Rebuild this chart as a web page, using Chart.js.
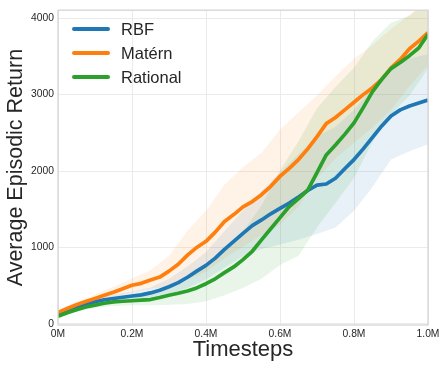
<!DOCTYPE html>
<html>
<head>
<meta charset="utf-8">
<script src="https://cdn.jsdelivr.net/npm/chart.js@4.4.1/dist/chart.umd.min.js"></script>
<style>
  html, body { margin: 0; padding: 0; background: #ffffff; }
  #wrap { width: 448px; height: 371px; position: relative; }
</style>
</head>
<body>
<div id="wrap"><canvas id="c" width="448" height="371"></canvas></div>
<script>
// ---- data (timesteps in millions) ----
const steps = [0,0.025,0.05,0.075,0.1,0.125,0.15,0.175,0.2,0.225,0.25,0.275,0.3,0.325,0.35,0.375,0.4,0.425,0.45,0.475,0.5,0.525,0.55,0.575,0.6,0.625,0.65,0.675,0.7,0.725,0.75,0.775,0.8,0.825,0.85,0.875,0.9,0.925,0.95,0.975,1.0];
const rbfMean = [140,185,225,258,290,315,332,348,365,380,405,440,485,540,610,690,765,860,975,1080,1185,1285,1360,1440,1510,1580,1660,1745,1815,1830,1905,2030,2150,2290,2440,2590,2720,2800,2850,2890,2930];
const maternMean = [150,200,250,292,333,375,415,460,505,530,575,612,690,780,900,1000,1080,1200,1340,1430,1530,1600,1690,1800,1930,2035,2150,2290,2450,2620,2700,2800,2900,3000,3090,3200,3350,3460,3600,3700,3810];
const rationalMean = [100,145,185,220,245,270,287,296,302,310,318,345,375,400,430,470,525,590,670,745,840,950,1100,1245,1390,1535,1640,1750,1980,2210,2340,2480,2630,2830,3040,3200,3340,3420,3510,3610,3790];

// shaded bands (read at every 0.05M)
const bandSteps = [0,0.05,0.1,0.15,0.2,0.25,0.3,0.35,0.4,0.45,0.5,0.55,0.6,0.65,0.7,0.75,0.8,0.85,0.9,0.95,1.0];
const rbfLow  = [120,195,250,280,300,325,390,470,580,735,885,980,1040,1100,1175,1260,1480,1790,2150,2260,2350];
const rbfHigh = [160,255,330,380,425,475,590,750,940,1215,1485,1740,1980,2220,2455,2580,2800,3090,3360,3470,3530];
const maternLow  = [125,215,283,345,415,460,490,580,680,860,1010,1160,1300,1530,1910,2160,2370,2570,2800,3110,3380];
const maternHigh = [175,285,383,485,595,700,890,1220,1480,1820,2050,2240,2540,2770,2990,3240,3470,3650,3860,4050,4220];
const rationalLow  = [80,160,210,235,245,245,250,260,295,375,470,590,770,890,1260,1580,1910,2380,2740,2990,3340];
const rationalHigh = [120,220,290,335,365,405,470,580,755,975,1210,1550,2010,2390,2820,3100,3350,3700,3940,4030,4240];

const seriesNames = ['RBF', 'Matérn', 'Rational'];
const yTicks = [0, 1000, 2000, 3000, 4000];
const xTicks = [0, 0.2, 0.4, 0.6, 0.8, 1.0];

const colors = ['#1f77b4', '#ff7f0e', '#2ca02c'];
const fills = ['rgba(31,119,180,0.10)', 'rgba(255,127,14,0.10)', 'rgba(44,160,44,0.10)'];

const pts = (xs, ys) => xs.map((x, i) => ({x: x, y: ys[i]}));
const means = [rbfMean, maternMean, rationalMean];
const lows = [rbfLow, maternLow, rationalLow];
const highs = [rbfHigh, maternHigh, rationalHigh];

const datasets = [];
for (let s = 0; s < 3; s++) {
  datasets.push({
    label: seriesNames[s] + ' upper', data: pts(bandSteps, highs[s]),
    borderWidth: 0, pointRadius: 0, fill: false, backgroundColor: fills[s],
    borderColor: 'rgba(0,0,0,0)', order: 10 + (2 - s), tension: 0
  });
  datasets.push({
    label: seriesNames[s] + ' lower', data: pts(bandSteps, lows[s]),
    borderWidth: 0, pointRadius: 0, fill: '-1', backgroundColor: fills[s],
    borderColor: 'rgba(0,0,0,0)', order: 10 + (2 - s), tension: 0
  });
}
for (let s = 0; s < 3; s++) {
  datasets.push({
    label: seriesNames[s], data: pts(steps, means[s]),
    borderColor: colors[s], borderWidth: 3.7, pointRadius: 0, fill: false,
    order: 2 - s, tension: 0, borderJoinStyle: 'round'
  });
}

const textColor = '#262626';
const fontFam = '"Liberation Sans", Arial, sans-serif';

const framePlugin = {
  id: 'frameAndLegend',
  afterDraw(chart) {
    const ctx = chart.ctx;
    const a = chart.chartArea;
    ctx.save();
    ctx.strokeStyle = '#d4d4d4';
    ctx.lineWidth = 1.3;
    ctx.strokeRect(a.left, a.top, a.right - a.left, a.bottom - a.top);
    // legend
    const ys = [29, 53, 77];
    ctx.font = '16.5px ' + fontFam;
    ctx.textBaseline = 'middle';
    ctx.textAlign = 'left';
    for (let s = 0; s < 3; s++) {
      ctx.strokeStyle = colors[s];
      ctx.lineWidth = 4;
      ctx.lineCap = 'round';
      ctx.beginPath();
      ctx.moveTo(74, ys[s]);
      ctx.lineTo(108, ys[s]);
      ctx.stroke();
      ctx.fillStyle = textColor;
      ctx.fillText(seriesNames[s], 121, ys[s] + 1);
    }
    ctx.restore();
  }
};

new Chart(document.getElementById('c'), {
  type: 'line',
  data: { datasets: datasets },
  options: {
    responsive: false,
    animation: false,
    events: [],
    layout: { padding: { top: 7, right: 20, left: 0, bottom: 0 } },
    plugins: { legend: { display: false }, tooltip: { enabled: false } },
    scales: {
      x: {
        type: 'linear', min: 0, max: 1,
        afterFit(scale) { scale.height = 46; },
        afterBuildTicks(scale) { scale.ticks = xTicks.map(v => ({value: v})); },
        grid: { color: '#ebebeb', lineWidth: 1, drawTicks: false },
        border: { display: false },
        ticks: {
          padding: 3, color: textColor,
          font: { family: fontFam, size: 10.3 },
          callback: v => (v === 0 ? '0M' : v.toFixed(1) + 'M'),
          maxRotation: 0, autoSkip: false
        },
        title: {
          display: true, text: 'Timesteps', color: textColor,
          font: { family: fontFam, size: 22, lineHeight: 1.2 },
          padding: { top: 0, bottom: 8 }
        }
      },
      y: {
        type: 'linear', min: -15, max: 4105,
        afterFit(scale) { scale.width = 58; },
        afterBuildTicks(scale) { scale.ticks = yTicks.map(v => ({value: v})); },
        grid: { color: '#ebebeb', lineWidth: 1, drawTicks: false },
        border: { display: false },
        ticks: {
          padding: 4, color: textColor,
          font: { family: fontFam, size: 10.3 },
          callback: v => String(v)
        },
        title: {
          display: true, text: 'Average Episodic Return', color: textColor,
          font: { family: fontFam, size: 21.5, lineHeight: 1.2 },
          padding: { top: 3, bottom: 0 }
        }
      }
    }
  },
  plugins: [framePlugin]
});
</script>
</body>
</html>
